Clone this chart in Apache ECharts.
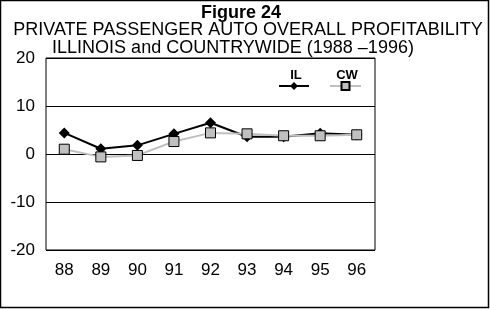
<!DOCTYPE html>
<html><head><meta charset="utf-8">
<script src="https://cdn.jsdelivr.net/npm/echarts@6/dist/echarts.min.js"></script>
<style>html,body{margin:0;padding:0;background:#fff}#c{width:490px;height:309px}</style>
</head><body><div id="c"></div>
<script>
const categories = ['88','89','90','91','92','93','94','95','96'];
const ilValues = [4.4, 1.1, 1.8, 4.2, 6.5, 3.6, 3.6, 4.3, 4.0];
const cwValues = [1.0, -0.6, -0.3, 2.6, 4.4, 4.2, 3.8, 3.8, 4.0];
const yTicks = [-20, -10, 0, 10, 20];

const F = 'Arial, "Liberation Sans", sans-serif';
const chart = echarts.init(document.getElementById('c'), null, {renderer: 'canvas'});
chart.setOption({
  animation: false,
  backgroundColor: '#fff',
  title: [
    {text: 'Figure 24', left: 236, textAlign: 'center', top: -1, textStyle: {fontFamily: F, fontSize: 18, fontWeight: 'bold', color: '#000'}},
    {text: 'PRIVATE PASSENGER AUTO OVERALL PROFITABILITY', left: 243, textAlign: 'center', top: 16, textStyle: {fontFamily: F, fontSize: 18, fontWeight: 'normal', color: '#000'}},
    {text: 'ILLINOIS and COUNTRYWIDE (1988 \u20131996)', left: 228, textAlign: 'center', top: 34, textStyle: {fontFamily: F, fontSize: 18, fontWeight: 'normal', color: '#000'}},
    {text: 'IL', left: 291, textAlign: 'center', top: 64, textStyle: {fontFamily: F, fontSize: 13, fontWeight: 'bold', color: '#000'}},
    {text: 'CW', left: 342, textAlign: 'center', top: 64, textStyle: {fontFamily: F, fontSize: 13, fontWeight: 'bold', color: '#000'}}
  ],
  legend: [
    {data: ['IL'], left: 278, top: 81, itemWidth: 30, itemHeight: 10, formatter: () => '', padding: 0},
    {data: ['CW'], left: 329, top: 81, itemWidth: 31, itemHeight: 10, formatter: () => '', padding: 0}
  ],
  grid: {left: 46, right: 115, top: 58, bottom: 59, show: true, borderColor: '#000', borderWidth: 1},
  xAxis: {
    type: 'category', data: categories, boundaryGap: true,
    axisLine: {show: false}, axisTick: {show: false},
    axisLabel: {fontFamily: F, fontSize: 17, color: '#000', margin: 12}
  },
  yAxis: {
    type: 'value', min: yTicks[0], max: yTicks[yTicks.length - 1], interval: 10,
    axisLine: {show: false}, axisTick: {show: false},
    axisLabel: {fontFamily: F, fontSize: 17, color: '#000', margin: 11},
    splitLine: {lineStyle: {color: '#000', width: 1}}
  },
  series: [
    {name: 'IL', type: 'line', data: ilValues, symbol: 'diamond', symbolSize: 11,
     lineStyle: {color: '#000', width: 2}, itemStyle: {color: '#000'}, z: 2},
    {name: 'CW', type: 'line', data: cwValues, symbol: 'rect', symbolSize: 10,
     lineStyle: {color: '#c0c0c0', width: 2}, itemStyle: {color: '#c0c0c0', borderColor: '#000', borderWidth: 1}, z: 3}
  ],
  graphic: [{type: 'rect', shape: {x: 0.5, y: 0.5, width: 488, height: 307}, style: {fill: 'none', stroke: '#000', lineWidth: 1.5}, silent: true}]
});
</script></body></html>
